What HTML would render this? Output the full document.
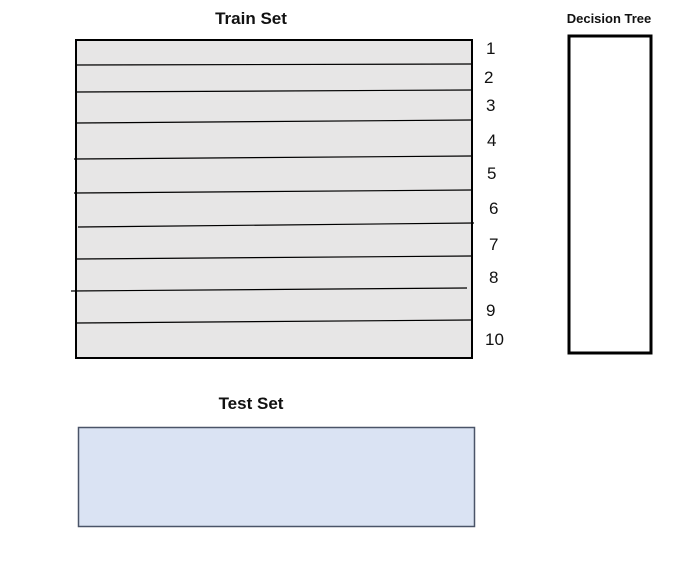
<!DOCTYPE html>
<html><head><style>body{margin:0;background:#fff}</style></head><body>
<svg width="695" height="563" xmlns="http://www.w3.org/2000/svg" style="display:block;font-family:'Liberation Sans',sans-serif">
<rect x="0" y="0" width="695" height="563" fill="#fff"/>
<text x="251" y="24" font-size="17" font-weight="bold" text-anchor="middle" fill="#111">Train Set</text>
<rect x="76" y="40" width="396" height="318" fill="#e7e6e6" stroke="#000" stroke-width="2"/>
<g stroke="#000" stroke-width="1.2">
<line x1="76" y1="65" x2="471" y2="64"/>
<line x1="76" y1="92" x2="471" y2="90"/>
<line x1="76" y1="123" x2="471" y2="120"/>
<line x1="74" y1="159" x2="471" y2="156"/>
<line x1="74" y1="193" x2="471" y2="190"/>
<line x1="78" y1="227" x2="474" y2="223"/>
<line x1="76" y1="259" x2="471" y2="256"/>
<line x1="71" y1="291" x2="467" y2="288"/>
<line x1="76" y1="323" x2="471" y2="320"/>
</g>
<g font-size="17" fill="#111">
<text x="486" y="54">1</text>
<text x="484" y="83">2</text>
<text x="486" y="111">3</text>
<text x="487" y="146">4</text>
<text x="487" y="179">5</text>
<text x="489" y="214">6</text>
<text x="489" y="250">7</text>
<text x="489" y="283">8</text>
<text x="486" y="316">9</text>
<text x="485" y="345">10</text>
</g>
<text x="609" y="23" font-size="13" font-weight="bold" text-anchor="middle" fill="#111">Decision Tree</text>
<rect x="569" y="36" width="82" height="317" fill="#fff" stroke="#000" stroke-width="3"/>
<text x="251" y="409" font-size="17" font-weight="bold" text-anchor="middle" fill="#111">Test Set</text>
<rect x="78.5" y="427.5" width="396" height="99" fill="#dae3f3" stroke="#4a5468" stroke-width="1.5"/>
</svg>
</body></html>
